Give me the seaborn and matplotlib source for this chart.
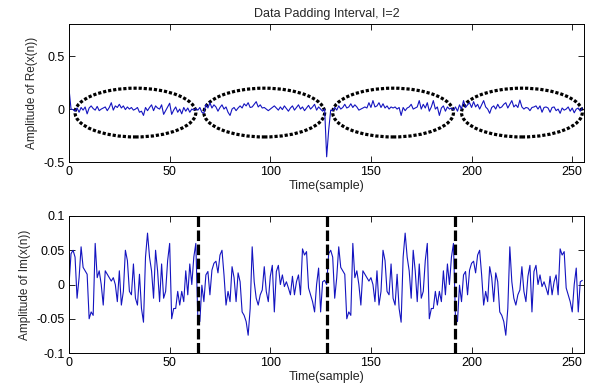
import matplotlib
matplotlib.use("Agg")
import matplotlib.pyplot as plt
from matplotlib.patches import Ellipse
import numpy as np
import pandas as pd
import seaborn as sns

re_block1 = [0.19, 0.0, -0.005, -0.02, 0.01, -0.03, 0.015, -0.01,
             0.02, -0.045, 0.01, 0.03, 0.005, -0.01, 0.025, -0.015,
             0.0, 0.01, 0.02, -0.015, 0.015, 0.06, -0.01, 0.03,
             0.015, 0.045, 0.01, 0.03, -0.005, 0.02, 0.0, 0.015,
             -0.01, 0.0, 0.015, -0.03, -0.02, -0.06, 0.015, -0.015,
             0.015, 0.04, -0.015, 0.03, 0.01, 0.0, 0.04, -0.05,
             -0.015, 0.02, 0.055, -0.05, -0.01, 0.02, -0.03, 0.0,
             -0.045, 0.015, -0.02, 0.01, -0.03, 0.0, -0.01, 0.005]
re_block2 = [-0.01, 0.015, -0.03, -0.04, 0.045, 0.01, 0.06, 0.01,
             0.04, 0.02, -0.02, 0.015, 0.04, 0.0, 0.02, -0.03,
             -0.06, 0.0, 0.015, -0.015, 0.01, 0.03, 0.01, 0.05,
             0.03, 0.06, 0.015, 0.02, 0.045, 0.07, 0.02, 0.04,
             0.01, 0.015, 0.0, -0.015, 0.0, 0.015, 0.03, 0.01,
             -0.01, 0.02, -0.005, 0.03, 0.005, -0.02, 0.01, 0.03,
             -0.01, 0.015, 0.04, 0.0, 0.02, -0.015, 0.01, 0.035,
             0.0, 0.02, 0.045, -0.01, 0.02, 0.0, -0.02, 0.0]
re_block3 = [-0.45, -0.2, -0.01, -0.015, 0.015, -0.01, 0.03, 0.0,
             0.015, 0.045, 0.01, 0.02, 0.05, 0.015, 0.04, 0.02,
             -0.01, 0.0, 0.01, 0.02, 0.01, 0.06, 0.015, 0.08,
             0.02, 0.03, 0.06, 0.015, 0.05, 0.01, 0.03, 0.0,
             0.02, 0.01, 0.02, 0.0, 0.015, -0.06, 0.015, -0.015,
             0.01, 0.02, 0.045, 0.0, 0.01, 0.02, 0.08, 0.0,
             0.045, 0.01, 0.06, -0.02, 0.02, 0.08, 0.0, 0.02,
             -0.06, 0.01, 0.03, -0.02, 0.02, 0.0, 0.01, -0.01]
re_block4 = [0.02, -0.02, 0.04, 0.0, 0.08, 0.015, 0.04, 0.06,
             0.015, 0.07, 0.02, 0.045, 0.0, 0.04, 0.08, 0.02,
             0.0, -0.04, 0.015, 0.03, 0.0, 0.045, 0.01, 0.02,
             0.045, 0.06, 0.01, 0.045, 0.08, 0.02, 0.04, 0.015,
             0.085, 0.02, 0.0, 0.015, 0.01, -0.015, 0.015, 0.02,
             0.03, 0.0, 0.03, -0.03, 0.015, 0.02, 0.01, -0.03,
             0.015, 0.02, -0.015, 0.0, -0.04, 0.01, -0.01, 0.0,
             0.02, -0.02, 0.01, -0.035, 0.0, 0.01, -0.02, 0.01]

# imaginary part
im_block1 = [0.0, 0.045, 0.05, 0.04, -0.02, 0.01, 0.055, 0.025,
             0.02, 0.015, -0.05, -0.04, -0.045, 0.06, 0.01, 0.02,
             0.0, -0.03, 0.02, 0.015, 0.01, 0.005, 0.01, 0.0,
             -0.025, 0.02, -0.03, -0.01, 0.05, 0.035, -0.01, -0.015,
             0.03, -0.02, -0.03, 0.015, -0.035, -0.055, 0.04, 0.075,
             0.04, 0.02, -0.02, 0.05, 0.02, -0.025, 0.03, -0.02,
             -0.01, 0.035, 0.06, -0.05, -0.035, -0.035, -0.01, -0.03,
             -0.01, -0.025, 0.02, -0.015, 0.03, 0.0, 0.04, 0.06]
im_block2 = [-0.049, -0.054, -0.001, -0.025, 0.014, 0.019, -0.015, 0.021,
             0.031, 0.034, 0.017, 0.043, 0.05, 0.014, -0.03, -0.01,
             -0.025, 0.026, 0.01, -0.025, 0.017, 0.004, -0.04, -0.045,
             -0.054, -0.074, -0.035, 0.055, 0.004, -0.02, -0.03, -0.015,
             -0.008, 0.026, -0.01, -0.025, 0.012, 0.028, -0.04, 0.019,
             0.028, 0.0, 0.014, -0.003, 0.004, -0.005, -0.015, 0.012,
             -0.015, 0.004, 0.014, -0.015, 0.052, 0.043, 0.048, -0.005,
             -0.015, -0.025, -0.04, 0.0, 0.024, -0.04, 0.004, 0.006]
im_block3 = [0.0, 0.045, 0.05, 0.04, -0.02, 0.01, 0.055, 0.025,
             0.02, 0.015, -0.05, -0.04, -0.045, 0.06, 0.01, 0.02,
             0.0, -0.03, 0.02, 0.015, 0.01, 0.005, 0.01, 0.0,
             -0.025, 0.02, -0.03, -0.01, 0.05, 0.035, -0.01, -0.015,
             0.03, -0.02, -0.03, 0.015, -0.035, -0.055, 0.04, 0.075,
             0.04, 0.02, -0.02, 0.05, 0.02, -0.025, 0.03, -0.02,
             -0.01, 0.035, 0.06, -0.05, -0.035, -0.035, -0.01, -0.03,
             -0.01, -0.025, 0.02, -0.015, 0.03, 0.0, 0.04, 0.06]
im_block4 = [-0.049, -0.054, -0.001, -0.025, 0.014, 0.019, -0.015, 0.021,
             0.031, 0.034, 0.017, 0.043, 0.05, 0.014, -0.03, -0.01,
             -0.025, 0.026, 0.01, -0.025, 0.017, 0.004, -0.04, -0.045,
             -0.054, -0.074, -0.035, 0.055, 0.004, -0.02, -0.03, -0.015,
             -0.008, 0.026, -0.01, -0.025, 0.012, 0.028, -0.04, 0.019,
             0.028, 0.0, 0.014, -0.003, 0.004, -0.005, -0.015, 0.012,
             -0.015, 0.004, 0.014, -0.015, 0.052, 0.043, 0.048, -0.005,
             -0.015, -0.025, -0.04, 0.0, 0.024, -0.04, 0.004, 0.006]

ellipse_centers = [33, 97, 161, 225]
boundaries = [64, 128, 192]

re_ticks = [-0.5, 0, 0.5]
re_ticklabels = ["-0.5", "0", "0.5"]
im_ticks = [-0.1, -0.05, 0, 0.05, 0.1]
im_ticklabels = ["-0.1", "-0.05", "0", "0.05", "0.1"]
x_ticks = [0, 50, 100, 150, 200, 250]

re_values = re_block1 + re_block2 + re_block3 + re_block4
im_values = im_block1 + im_block2 + im_block3 + im_block4
df = pd.DataFrame({"n": np.arange(len(re_values)), "re": re_values})
df_im = pd.DataFrame({"n": np.arange(len(im_values)), "im": im_values})

sns.set_style("white")
plt.rcParams['font.family'] = ['Liberation Sans', 'DejaVu Sans']
plt.rcParams['axes.unicode_minus'] = False

fig = plt.figure(figsize=(5.95, 3.85), dpi=100)
ax1 = fig.add_axes([0.116, 0.579, 0.866, 0.358])
ax2 = fig.add_axes([0.116, 0.083, 0.866, 0.356])

line_color = "#1414c0"
sns.lineplot(data=df, x="n", y="re", ax=ax1, color=line_color, linewidth=0.8, estimator=None)
sns.lineplot(data=df_im, x="n", y="im", ax=ax2, color=line_color, linewidth=0.8, estimator=None)

# dotted ellipses around each data block
for c in ellipse_centers:
    ax1.add_patch(Ellipse((c, -0.033), 60, 0.46, fill=False, edgecolor="black",
                          linewidth=2.3, linestyle=(0, (1, 0.6))))
for b in boundaries:
    ax2.axvline(b, color="black", linewidth=2.3, linestyle=(0, (3.3, 1.1)))

ax1.set_xlim(0, 256)
ax1.set_ylim(-0.5, 0.8)
ax1.set_yticks(re_ticks)
ax1.set_yticklabels(re_ticklabels)
ax2.set_xlim(0, 256)
ax2.set_ylim(-0.1, 0.1)
ax2.set_yticks(im_ticks)
ax2.set_yticklabels(im_ticklabels)

for ax in (ax1, ax2):
    ax.set_xticks(x_ticks)
    ax.tick_params(direction="in", length=4, width=0.6, top=True, right=True,
                   bottom=True, left=True, labelsize=9, colors="black", pad=3)
    for s in ax.spines.values():
        s.set_color("black")
        s.set_linewidth(0.7)
    ax.set_xlabel("Time(sample)", fontsize=9, labelpad=1)

ax1.set_ylabel("Amplitude of Re(x(n))", fontsize=8.5)
ax2.set_ylabel("Amplitude of Im(x(n))", fontsize=8.5)
ax1.set_title("Data Padding Interval, I=2", fontsize=9, pad=5)

fig.savefig("out.png", dpi=100)
